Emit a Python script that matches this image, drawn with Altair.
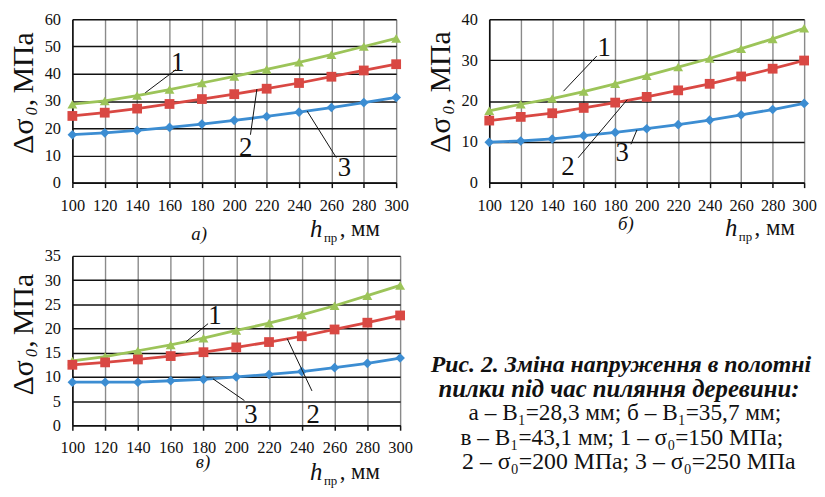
import altair as alt
import pandas as pd

SERIF = "Liberation Serif, Times New Roman, DejaVu Serif, serif"

H = [100, 120, 140, 160, 180, 200, 220, 240, 260, 280, 300]
SERIES = ["1", "2", "3"]
COLORS = ["#9cc459", "#d94843", "#3c8dd2"]
SHAPES = ["triangle-up", "square", "diamond"]

# panel а)
A1 = [28.8, 30.0, 32.0, 34.2, 36.6, 39.0, 41.6, 44.2, 47.0, 50.0, 53.0]
A2 = [24.5, 25.7, 27.2, 28.9, 30.7, 32.5, 34.5, 36.6, 38.9, 41.2, 43.5]
A3 = [17.6, 18.3, 19.2, 20.3, 21.5, 22.9, 24.3, 25.9, 27.6, 29.4, 31.3]
# panel б)
B1 = [17.6, 19.2, 20.6, 22.3, 24.2, 26.2, 28.3, 30.4, 32.8, 35.2, 37.8]
B2 = [15.2, 16.1, 17.0, 18.3, 19.6, 21.0, 22.6, 24.2, 26.0, 27.9, 29.9]
B3 = [9.9, 10.2, 10.7, 11.5, 12.3, 13.2, 14.2, 15.3, 16.6, 17.9, 19.4]
# panel в)
C1 = [13.3, 14.2, 15.4, 16.6, 18.0, 19.6, 21.1, 22.8, 24.7, 26.8, 28.9]
C2 = [12.5, 13.0, 13.6, 14.3, 15.1, 16.1, 17.2, 18.4, 19.8, 21.2, 22.7]
C3 = [8.9, 8.9, 8.9, 9.2, 9.5, 10.0, 10.5, 11.1, 11.9, 12.8, 13.9]

A_TICKS = [0, 10, 20, 30, 40, 50, 60]
B_TICKS = [0, 10, 20, 30, 40]
C_TICKS = [0, 5, 10, 15, 20, 25, 30, 35]

# curve number annotations: label position and leader line ends (data units)
A_LBL = {"x": [165, 207, 268], "y": [44, 12.7, 5.3],
         "x1": [145, 210, 263], "y1": [33.0, 17.6, 9.2],
         "x2": [164, 214, 245], "y2": [41.5, 34.4, 26.3]}
B_LBL = {"x": [173, 150, 184.5], "y": [33, 3.7, 7.3],
         "x1": [147.2, 156.5, 190], "y1": [22.4, 6.1, 9.4],
         "x2": [168.3, 187.6, 193.8], "y2": [31.0, 20.3, 12.9]}
C_LBL = {"x": [187, 247, 209], "y": [22.6, 2.2, 2.2],
         "x1": [169.5, 246.2, 205], "y1": [17.3, 7.1, 5.1],
         "x2": [182.8, 231.1, 185.8], "y2": [21.0, 17.9, 9.6]}

Y_TITLE = ["Δσ", "0", ",", "МПа"]
X_TITLE = ["h", "пр", ", мм"]
LETTERS = ["а)", "б)", "в)"]
CAPTION = [
    "Рис. 2. Зміна напруження в полотні",
    "пилки під час пиляння деревини:",
    "а – B₁=28,3 мм; б – B₁=35,7 мм;",
    "в – B₁=43,1 мм; 1 – σ₀=150 МПа;",
    "2 – σ₀=200 МПа; 3 – σ₀=250 МПа",
]

TXT = "#111111"


def text(t, x, y, size, style="normal", weight="normal", align="left",
         baseline="alphabetic", angle=0):
    return alt.Chart(pd.DataFrame({"t": [t]})).mark_text(
        font=SERIF, fontSize=size, fontStyle=style, fontWeight=weight,
        align=align, baseline=baseline, color=TXT, angle=angle
    ).encode(text="t:N", x=alt.value(x), y=alt.value(y))


def panel(vals, ticks, lbl, w, h, letter, letter_pos, xt_pos, yt_shift):
    ymax = ticks[-1]
    rows = []
    for s, v in zip(SERIES, vals):
        for hh, vv in zip(H, v):
            rows.append({"h": hh, "v": vv, "s": s})
    df = pd.DataFrame(rows)

    xs = alt.Scale(domain=[100, 300], nice=False, zero=False)
    ys = alt.Scale(domain=[0, ymax], nice=False)
    xax = alt.Axis(values=H, tickCount=len(H), grid=True, gridColor="#8a8a8a",
                   gridWidth=1.4, domainColor="#111", domainWidth=1.6,
                   tickColor="#111", tickSize=5, tickWidth=1.5, labelFont=SERIF,
                   labelFontSize=16.5, labelColor=TXT, labelPadding=10,
                   labelOverlap=False, labelFlush=False, title=None)
    yax = alt.Axis(values=ticks, tickCount=len(ticks), grid=True, gridColor="#111",
                   gridWidth=1.4, domainColor="#111", domainWidth=1.6, ticks=False,
                   labelFont=SERIF, labelFontSize=16.5, labelColor=TXT,
                   labelPadding=12, labelOverlap=False, title=None)
    col = alt.Color("s:N", scale=alt.Scale(domain=SERIES, range=COLORS), legend=None)
    shp = alt.Shape("s:N", scale=alt.Scale(domain=SERIES, range=SHAPES), legend=None)
    size = alt.Size("s:N", scale=alt.Scale(domain=SERIES, range=[100, 95, 80]), legend=None)

    X = lambda f: alt.X(f, scale=xs, axis=xax)
    Y = lambda f: alt.Y(f, scale=ys, axis=yax)

    base = alt.Chart(df)
    lines = base.mark_line(strokeWidth=2.8).encode(
        x=X("h:Q"), y=Y("v:Q"), color=col, detail="s:N")
    pts = base.mark_point(filled=True, opacity=1).encode(
        x=X("h:Q"), y=Y("v:Q"), color=col, shape=shp, size=size)

    ldf = pd.DataFrame({"t": SERIES, **lbl})
    leaders = alt.Chart(ldf).mark_rule(color="#111", strokeWidth=1).encode(
        x=X("x1:Q"), y=Y("y1:Q"), x2="x2:Q", y2="y2:Q")
    nums = alt.Chart(ldf).mark_text(font=SERIF, fontSize=27, color=TXT,
                                    baseline="middle", align="center").encode(
        x=X("x:Q"), y=Y("y:Q"), text="t:N")

    hx, hy = xt_pos
    d = yt_shift
    extras = [
        text(letter, letter_pos[0], letter_pos[1], 19, style="italic",
             align="center", baseline="middle"),
        text(X_TITLE[0], hx, hy, 25, style="italic"),
        text(X_TITLE[1], hx + 14, hy + 5, 13),
        text(X_TITLE[2], hx + 30, hy - 1, 23),
        # rotated y-axis title pieces
        text(Y_TITLE[0], -40, 123 + d, 30, align="center", angle=270),
        text(Y_TITLE[1], -36, 98 + d, 16, style="italic", align="center", angle=270),
        text(Y_TITLE[2], -40, 89 + d, 30, align="center", angle=270),
        text(Y_TITLE[3], -40, 49 + d, 30, align="center", angle=270),
    ]
    return alt.layer(lines, pts, leaders, nums, *extras).properties(width=w, height=h)


pa = panel([A1, A2, A3], A_TICKS, A_LBL, 327, 165, LETTERS[0], (128, 217), (240, 220), -5)
pb = panel([B1, B2, B3], B_TICKS, B_LBL, 318, 165, LETTERS[1], (138, 207), (238, 219), -6)

CAP_SIZES = [24, 25, 23.5, 23.5, 24]
CAP_X = [554, 552, 558, 555, 562]
cap = []
for i, line in enumerate(CAPTION):
    bold = i < 2
    cap.append(text(line, CAP_X[i], 110 + 24.5 * i, CAP_SIZES[i],
                    style="italic" if bold else "normal",
                    weight="bold" if bold else "normal",
                    align="center", baseline="middle"))

pc = alt.layer(
    panel([C1, C2, C3], C_TICKS, C_LBL, 331, 171, LETTERS[2], (132, 208), (240, 226), 0),
    *cap
)

top = alt.hconcat(pa, pb, spacing=16)
chart = alt.vconcat(top, pc, spacing=1).properties(
    padding={"left": 0, "top": 0, "right": 0, "bottom": 0}
).configure_view(stroke=None).configure(background="white")

chart.save("out.html", embed_options={"renderer": "svg", "actions": False})
